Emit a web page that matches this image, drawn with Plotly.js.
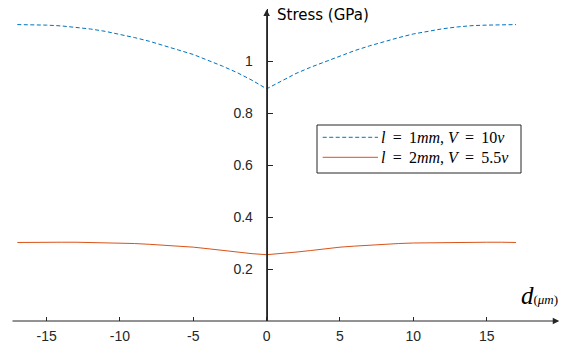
<!DOCTYPE html>
<html>
<head>
<meta charset="utf-8">
<script src="https://cdn.plot.ly/plotly-3.0.1.min.js"></script>
<style>html,body{margin:0;padding:0;background:#fff;}#chart{width:561px;height:347px;}</style>
</head>
<body>
<div id="chart"></div>
<script>
// Data
var dValues = [-17,-16,-15,-14,-13,-12,-11,-10,-9,-8,-7,-6,-5,-4,-3,-2,-1,0,1,2,3,4,5,6,7,8,9,10,11,12,13,14,15,16,17];
var stress1mm = [1.140,1.140,1.138,1.135,1.130,1.123,1.114,1.103,1.090,1.076,1.060,1.042,1.025,1.003,0.980,0.955,0.926,0.893,0.924,0.952,0.976,0.998,1.019,1.040,1.058,1.075,1.090,1.104,1.115,1.124,1.131,1.136,1.138,1.140,1.140];
var stress2mm = [0.302,0.303,0.303,0.303,0.303,0.302,0.301,0.300,0.298,0.295,0.292,0.288,0.284,0.278,0.271,0.265,0.259,0.255,0.259,0.265,0.271,0.278,0.284,0.288,0.292,0.295,0.298,0.300,0.301,0.302,0.303,0.303,0.303,0.303,0.302];
var seriesNames = ["<i>l</i> &#8201;= &#8201;1<i>mm</i>, <i>V</i> &#8201;= &#8201;10<i>v</i>", "<i>l</i> &#8201;= &#8201;2<i>mm</i>, <i>V</i> &#8201;= &#8201;5.5<i>v</i>"];
var xTickVals = [-15,-10,-5,0,5,10,15];
var xTickText = ["-15","-10","-5","0","5","10","15"];
var yTickVals = [0.2,0.4,0.6,0.8,1];
var yTickText = ["0.2","0.4","0.6","0.8","1"];

var blue = "#0072BD", red = "#D95319", axisCol = "#262626";
var xr = [-17.43, 20.0], yr = [0, 1.2];
var yPos = (0 - xr[0]) / (xr[1] - xr[0]);

var traces = [
  {x: dValues, y: stress1mm, type: "scatter", mode: "lines", name: seriesNames[0],
   line: {color: blue, width: 1, dash: "4px,2.5px"}, showlegend: false, hoverinfo: "skip"},
  {x: dValues, y: stress2mm, type: "scatter", mode: "lines", name: seriesNames[1],
   line: {color: red, width: 1}, showlegend: false, hoverinfo: "skip"}
];

// custom legend box (paper coords)
var L = {x0: (317 - 11) / 549, x1: (521 - 11) / 549, y0: (321 - 173) / 312, y1: (321 - 125) / 312};
var row1 = (321 - 137.3) / 312, row2 = (321 - 157.3) / 312;
var s0 = (322.7 - 11) / 549, s1 = (378 - 11) / 549, tx = (379 - 11) / 549;

var layout = {
  width: 561, height: 347,
  margin: {l: 11, r: 1, t: 9, b: 26, pad: 0},
  paper_bgcolor: "#fff", plot_bgcolor: "#fff",
  showlegend: false,
  xaxis: {range: xr, showgrid: false, zeroline: false, showline: false,
    tickvals: xTickVals, ticktext: xTickText, ticks: "inside", ticklen: 4, tickwidth: 1, tickcolor: axisCol,
    tickfont: {family: "Liberation Sans, Arial, sans-serif", size: 14, color: axisCol},
    ticklabelstandoff: 5, fixedrange: true},
  yaxis: {range: yr, showgrid: false, zeroline: false, showline: true, linecolor: axisCol, linewidth: 1,
    anchor: "free", position: yPos,
    tickvals: yTickVals, ticktext: yTickText, ticks: "inside", ticklen: 5, tickwidth: 1, tickcolor: axisCol,
    tickfont: {family: "Liberation Sans, Arial, sans-serif", size: 14, color: axisCol},
    ticklabelstandoff: 11, fixedrange: true},
  shapes: [
    {type: "rect", xref: "paper", yref: "paper", x0: L.x0, x1: L.x1, y0: L.y0, y1: L.y1,
     line: {color: axisCol, width: 1}, fillcolor: "#fff", layer: "above"},
    {type: "line", xref: "paper", yref: "paper", x0: s0, x1: s1, y0: row1, y1: row1,
     line: {color: blue, width: 1, dash: "4px,2.5px"}, layer: "above"},
    {type: "line", xref: "paper", yref: "paper", x0: s0, x1: s1, y0: row2, y1: row2,
     line: {color: red, width: 1}, layer: "above"}
  ],
  annotations: [
    {x: xr[1] - 0.05, y: 0, ax: xr[0], ay: 0, xref: "x", yref: "y", axref: "x", ayref: "y",
     text: "", showarrow: true, arrowhead: 2, arrowsize: 1.3, arrowwidth: 1, arrowcolor: axisCol},
    {x: 0, y: yr[1] - 0.002, ax: 0, ay: 0, xref: "x", yref: "y", axref: "x", ayref: "y",
     text: "", showarrow: true, arrowhead: 2, arrowsize: 1.3, arrowwidth: 1, arrowcolor: axisCol},
    {x: 0.55, xref: "x", y: (321 - 15) / 312, yref: "paper", xanchor: "left", yanchor: "middle",
     text: "Stress (GPa)", showarrow: false,
     font: {family: "DejaVu Sans, Verdana, sans-serif", size: 15, color: "#000"}},
    {x: 1, xref: "paper", y: (321 - 311) / 312, yref: "paper", xanchor: "right", yanchor: "bottom",
     text: "<i>d</i><span style='font-size:13px'>(<i>μm</i>)</span>", showarrow: false,
     font: {family: "Liberation Serif, Times New Roman, serif", size: 25, color: "#000"}},
    {x: tx, xref: "paper", y: row1, yref: "paper", xanchor: "left", yanchor: "middle",
     text: seriesNames[0], showarrow: false,
     font: {family: "Liberation Serif, Times New Roman, serif", size: 16, color: "#000"}},
    {x: tx, xref: "paper", y: row2, yref: "paper", xanchor: "left", yanchor: "middle",
     text: seriesNames[1], showarrow: false,
     font: {family: "Liberation Serif, Times New Roman, serif", size: 16, color: "#000"}}
  ]
};

Plotly.newPlot("chart", traces, layout, {displayModeBar: false, staticPlot: true});
</script>
</body>
</html>
